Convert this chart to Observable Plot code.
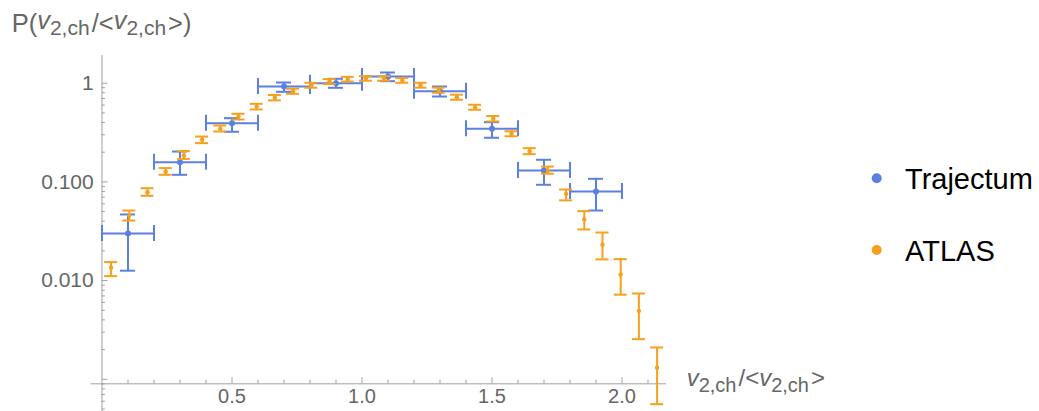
<!DOCTYPE html>
<html><head><meta charset="utf-8">
<script src="https://cdn.jsdelivr.net/npm/d3@7"></script>
<script src="https://cdn.jsdelivr.net/npm/@observablehq/plot@0.6"></script>
<style>
html,body{margin:0;padding:0;background:#fff;}
#wrap{position:relative;width:1039px;height:411px;overflow:hidden;}
#wrap svg{position:absolute;left:0;top:0;}
</style></head><body><div id="wrap"></div>
<script>
// ---- Trajectum (blue) ----
const trajX    = [0.1, 0.3, 0.5, 0.7, 0.9, 1.1, 1.3, 1.5, 1.7, 1.9];
const trajXErr = [0.1, 0.1, 0.1, 0.1, 0.1, 0.1, 0.1, 0.1, 0.1, 0.1];
const trajY    = [0.030, 0.158, 0.393, 0.926, 1.0, 1.169, 0.830, 0.345, 0.1305, 0.0799];
const trajLo   = [0.0126, 0.118, 0.322, 0.818, 0.898, 1.048, 0.733, 0.280, 0.0935, 0.0513];
const trajHi   = [0.0468, 0.203, 0.442, 1.016, 1.108, 1.284, 0.926, 0.403, 0.1675, 0.1075];

// ---- ATLAS (orange) ----
const atlasX  = [0.035, 0.105, 0.175, 0.245, 0.315, 0.385, 0.455, 0.525, 0.595, 0.665, 0.735, 0.805, 0.875, 0.945, 1.015, 1.085, 1.155, 1.225, 1.295, 1.365, 1.435, 1.505, 1.575, 1.645, 1.715, 1.785, 1.855, 1.925, 1.995, 2.065, 2.135];
const atlasY  = [0.0135, 0.0457, 0.0786, 0.127, 0.185, 0.267, 0.345, 0.46, 0.581, 0.713, 0.83, 0.954, 1.04, 1.10, 1.12, 1.12, 1.07, 0.955, 0.85, 0.72, 0.571, 0.436, 0.307, 0.205, 0.130, 0.0757, 0.0416, 0.0231, 0.0115, 0.00494, 0.00131];
const atlasLo = [0.0111, 0.0406, 0.0723, 0.118, 0.171, 0.247, 0.324, 0.429, 0.542, 0.67, 0.78, 0.90, 0.98, 1.04, 1.06, 1.06, 1.01, 0.90, 0.80, 0.68, 0.538, 0.410, 0.290, 0.191, 0.121, 0.065, 0.033, 0.0164, 0.0072, 0.00255, 0.00056];
const atlasHi = [0.0154, 0.0513, 0.0863, 0.138, 0.205, 0.288, 0.373, 0.49, 0.618, 0.76, 0.88, 1.01, 1.10, 1.16, 1.18, 1.18, 1.13, 1.01, 0.90, 0.765, 0.605, 0.465, 0.326, 0.220, 0.143, 0.0837, 0.0505, 0.0307, 0.0165, 0.0074, 0.0021];

// ---- ticks ----
const xMajorTicks = [0.5, 1.0, 1.5, 2.0];
const xTickLabels = ["0.5", "1.0", "1.5", "2.0"];
const xMinorTicks = [0.1,0.2,0.3,0.4,0.6,0.7,0.8,0.9,1.1,1.2,1.3,1.4,1.6,1.7,1.8,1.9,2.1];
const yMajorTicks = [0.001, 0.01, 0.1, 1];
const yLabelTicks = [1, 0.1, 0.01];
const yTickLabels = ["1", "0.100", "0.010"];
const yMinorTicks = [0.0005,0.0006,0.0007,0.0008,0.0009,
  0.002,0.003,0.004,0.005,0.006,0.007,0.008,0.009,
  0.02,0.03,0.04,0.05,0.06,0.07,0.08,0.09,
  0.2,0.3,0.4,0.5,0.6,0.7,0.8,0.9];
const xAxisCrossing = 0.0009;
const seriesNames = ["Trajectum", "ATLAS"];

const blue = "#5b80e2", orange = "#f6a01c";
const axisColor = "#a0a0a0", textColor = "#666666";

const traj = trajX.map((x, i) => ({x, x1: x - trajXErr[i], x2: x + trajXErr[i], y: trajY[i], lo: trajLo[i], hi: trajHi[i]}));
const atlas = atlasX.map((x, i) => ({x, y: atlasY[i], lo: atlasLo[i], hi: atlasHi[i]}));

const fmtY = d => yTickLabels[yLabelTicks.indexOf(d)];
const fmtX = d => xTickLabels[xMajorTicks.indexOf(d)];

const plot = Plot.plot({
  width: 1039, height: 411,
  marginLeft: 101.5, marginRight: 373, marginTop: 55, marginBottom: 27.7,
  style: {fontFamily: "'Liberation Sans', Arial, sans-serif", fontSize: "21px", background: "white", overflow: "visible"},
  x: {domain: [0, 2.2], range: [101.5, 673.5], label: null},
  y: {type: "log", domain: [0.001, 1], range: [378.8, 82.7], label: null},
  marks: [
    // axes lines
    Plot.ruleY([xAxisCrossing], {stroke: axisColor, insetLeft: -11}),
    Plot.ruleX([0], {stroke: axisColor, insetBottom: -40}),
    // x ticks
    Plot.axisX({anchor: "bottom", ticks: xMajorTicks, tickSize: -6, fill: "none", stroke: axisColor, label: null}),
    Plot.axisX({anchor: "bottom", ticks: xMinorTicks, tickSize: -3.6, fill: "none", stroke: axisColor, label: null}),
    Plot.axisX({anchor: "bottom", ticks: xMajorTicks, tickSize: 0, tickPadding: 5, tickFormat: fmtX, fill: textColor, fontSize: 20, label: null}),
    // y ticks
    Plot.axisY({anchor: "left", ticks: yMajorTicks, tickSize: -6, fill: "none", stroke: axisColor, label: null}),
    Plot.axisY({anchor: "left", ticks: yMinorTicks, tickSize: -3.4, fill: "none", stroke: axisColor, label: null}),
    Plot.axisY({anchor: "left", ticks: yLabelTicks, tickSize: 0, tickPadding: 8.3, tickFormat: fmtY, fill: textColor, label: null}),
    // Trajectum
    Plot.ruleY(traj, {y: "y", x1: "x1", x2: "x2", stroke: blue, strokeWidth: 2}),
    Plot.ruleX(traj, {x: "x1", y1: "y", y2: "y", insetTop: -8, insetBottom: -8, stroke: blue, strokeWidth: 2}),
    Plot.ruleX(traj, {x: "x2", y1: "y", y2: "y", insetTop: -8, insetBottom: -8, stroke: blue, strokeWidth: 2}),
    Plot.ruleX(traj, {x: "x", y1: "lo", y2: "hi", stroke: blue, strokeWidth: 2}),
    Plot.ruleY(traj, {y: "hi", x1: "x", x2: "x", insetLeft: -7.5, insetRight: -7.5, stroke: blue, strokeWidth: 2}),
    Plot.ruleY(traj, {y: "lo", x1: "x", x2: "x", insetLeft: -7.5, insetRight: -7.5, stroke: blue, strokeWidth: 2}),
    Plot.dot(traj, {x: "x", y: "y", r: 3, fill: blue}),
    // ATLAS
    Plot.ruleX(atlas, {x: "x", y1: "lo", y2: "hi", stroke: orange, strokeWidth: 2}),
    Plot.ruleY(atlas, {y: "hi", x1: "x", x2: "x", insetLeft: -6.5, insetRight: -6.5, stroke: orange, strokeWidth: 2}),
    Plot.ruleY(atlas, {y: "lo", x1: "x", x2: "x", insetLeft: -6.5, insetRight: -6.5, stroke: orange, strokeWidth: 2}),
    Plot.dot(atlas, {x: "x", y: "y", r: 2.2, fill: orange})
  ]
});
const wrap = document.getElementById("wrap");
wrap.appendChild(plot);

// overlay: axis labels and legend
const svg = d3.select(wrap).append("svg").attr("width", 1039).attr("height", 411)
  .style("font-family", "'Liberation Sans', Arial, sans-serif");

function ratioLabel(g, x, y, withP, size, subSize) {
  const t = g.append("text").attr("x", x).attr("y", y).attr("fill", textColor).attr("font-size", size);
  if (withP) t.append("tspan").text("P(");
  t.append("tspan").attr("font-style", "italic").attr("dy", withP ? -3 : 0).text("v");
  t.append("tspan").attr("font-size", subSize).attr("dy", 6).text("2,ch");
  t.append("tspan").attr("dy", withP ? -3 : -6).attr("dx", 2).text("/<");
  t.append("tspan").attr("font-style", "italic").attr("dy", withP ? -3 : 0).text("v");
  t.append("tspan").attr("font-size", subSize).attr("dy", 6).text("2,ch");
  t.append("tspan").attr("dy", withP ? -3 : -6).attr("dx", 2).text(withP ? ">)" : ">");
}
ratioLabel(svg, 11.7, 31.7, true, 25.5, 21);
ratioLabel(svg, 686.7, 386, false, 24, 20);

const legendColors = [blue, orange];
seriesNames.forEach((name, i) => {
  const cy = 178.3 + i * 71.7;
  svg.append("circle").attr("cx", 876.7).attr("cy", cy).attr("r", 5).attr("fill", legendColors[i]);
  svg.append("text").attr("x", 905).attr("y", cy + 11).attr("font-size", 29).attr("fill", "#000").text(name);
});
</script></body></html>
